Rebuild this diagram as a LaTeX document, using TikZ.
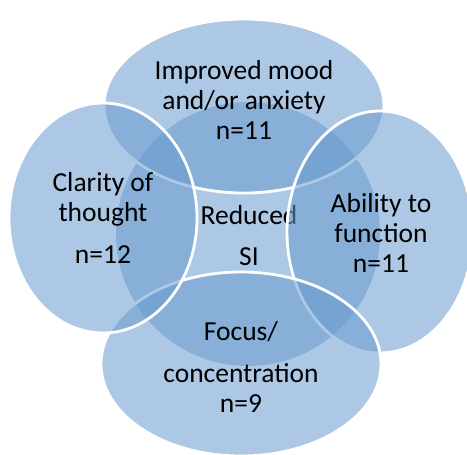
\documentclass[tikz,border=0pt]{standalone}
\usepackage{fontspec}
\setmainfont{Carlito}
\definecolor{vennblue}{RGB}{104, 155, 206}
\usetikzlibrary{shapes.geometric}

\begin{document}
\begin{tikzpicture}[x=1pt, y=-1pt,
    core/.style={circle, fill=vennblue, fill opacity=0.55, inner sep=0pt, minimum size=264pt},
    petal/.style={ellipse, fill=vennblue, fill opacity=0.55, draw=white, line width=2.8pt, inner sep=0pt},
    vtext/.style={align=center, inner sep=0pt, text=black, font=\fontsize{27.5}{30}\selectfont}]
  \useasboundingbox (0,0) rectangle (467,455);

  % Centre circle
  \node[core] (si) at (248,234) {};
  \node[vtext] (siText) at (249,236) {Reduced\\[11pt]SI};

  % Top petal
  \node[petal, minimum width=280pt, minimum height=174pt] (mood) at (244,106) {};
  \node[vtext] (moodText) at (244,100) {Improved mood\\and/or anxiety\\n=11};

  % Right petal
  \node[petal, minimum width=186pt, minimum height=242pt] (func) at (380,232) {};
  \node[vtext] (funcText) at (381,233) {Ability to\\function\\n=11};

  % Bottom petal
  \node[petal, minimum width=280pt, minimum height=184pt] (focus) at (241,364) {};
  \node[vtext] (focusText) at (241,367) {Focus/\\[12pt]concentration\\n=9};

  % Left petal
  \node[petal, minimum width=188pt, minimum height=230pt] (clarity) at (103,218) {};
  \node[vtext] (clarityText) at (103,218) {Clarity of\\thought\\[12pt]n=12};
\end{tikzpicture}
\end{document}
